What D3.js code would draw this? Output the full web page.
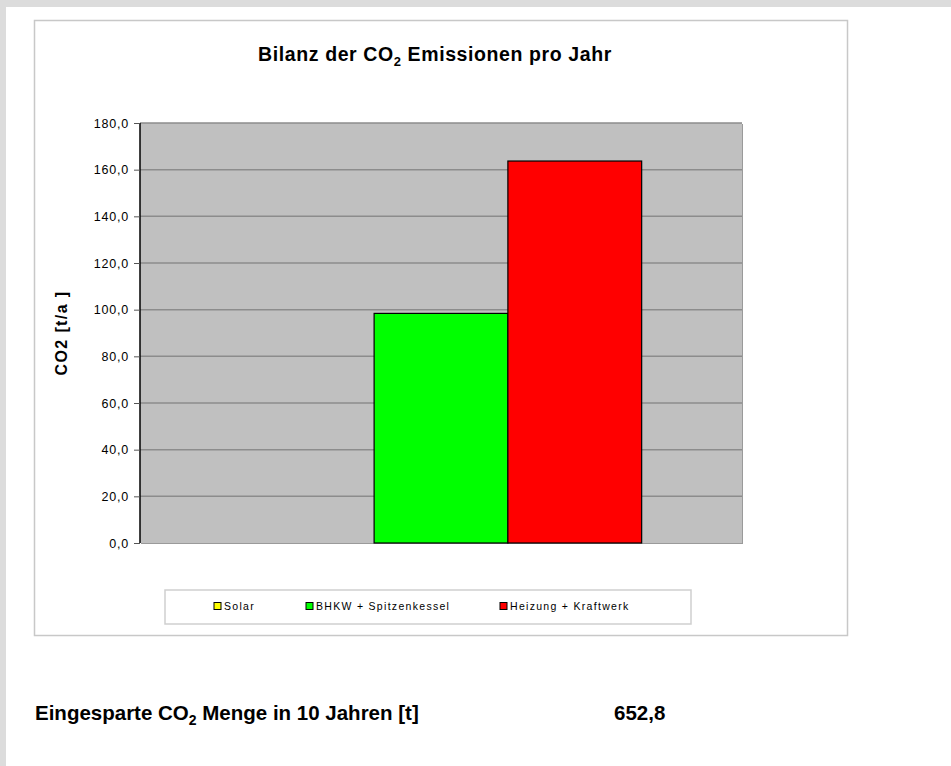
<!DOCTYPE html>
<html>
<head>
<meta charset="utf-8">
<script src="https://cdn.jsdelivr.net/npm/d3@7"></script>
<style>
	body { margin: 0; background: #dcdcdc; }
	svg { display: block; }
	text { font-family: "Liberation Sans", Arial, sans-serif; fill: #000; }
</style>
</head>
<body>
<svg id="chart" width="951" height="766"></svg>
<script>
// Daten
const categories = ['Bilanz'];
const seriesNames = ['Solar', 'BHKW + Spitzenkessel', 'Heizung + Kraftwerk'];
const seriesColors = ['#ffff00', '#00ff00', '#ff0000'];
const seriesValues = [0, 98.4, 163.7];
const yTicks = [0, 20, 40, 60, 80, 100, 120, 140, 160, 180];
const savedLabel = 'Menge in 10 Jahren [t]';
const savedValue = 652.8;

const svg = d3.select('#chart');

// Seite
svg.append('rect')
	.attr('x', 6).attr('y', 7)
	.attr('width', 945).attr('height', 759)
	.attr('fill', '#fff');

// Diagrammrahmen
svg.append('rect')
	.attr('x', 34.5).attr('y', 20.5)
	.attr('width', 813).attr('height', 615)
	.attr('fill', '#fff')
	.attr('stroke', '#c8c8c8')
	.attr('stroke-width', 1.5);

// Titel
const title = svg.append('text')
	.attr('x', 435).attr('y', 61)
	.attr('text-anchor', 'middle')
	.style('font-size', '19.5px')
	.style('letter-spacing', '0.6px')
	.style('font-weight', 'bold');
title.append('tspan').text('Bilanz der CO');
title.append('tspan').attr('dy', 5).style('font-size', '13px').text('2');
title.append('tspan').attr('dy', -5).text(' Emissionen pro Jahr');

const PLOT_X = 140;
const PLOT_Y = 123;
const PLOT_W = 602;
const PLOT_H = 420;

const y = d3.scaleLinear().domain([0, 180]).range([PLOT_Y + PLOT_H, PLOT_Y]);
const x0 = d3.scaleBand().domain(categories).range([PLOT_X, PLOT_X + PLOT_W]).paddingInner(0).paddingOuter(0);
// Excel: Abstand 150% der Balkenbreite, aufgeteilt auf beide Seiten
const groupW = x0.bandwidth() * 3 / 4.5;
const x1 = d3.scaleBand().domain(seriesNames)
	.range([(x0.bandwidth() - groupW) / 2, (x0.bandwidth() + groupW) / 2]);

// Zeichenfläche
svg.append('rect')
	.attr('x', PLOT_X + 1).attr('y', PLOT_Y + 1)
	.attr('width', PLOT_W).attr('height', PLOT_H)
	.attr('fill', '#9a9a9a');
svg.append('rect')
	.attr('x', PLOT_X).attr('y', PLOT_Y)
	.attr('width', PLOT_W).attr('height', PLOT_H)
	.attr('fill', '#c0c0c0');

// Gitternetz
svg.append('g')
	.selectAll('line')
	.data(yTicks.filter(d => d > 0))
	.join('line')
	.attr('x1', PLOT_X).attr('x2', PLOT_X + PLOT_W)
	.attr('y1', d => y(d)).attr('y2', d => y(d))
	.attr('stroke', '#8c8c8c')
	.attr('stroke-width', 1.5);

// Balken
svg.append('g')
	.selectAll('rect')
	.data(seriesValues.map((v, i) => ({ name: seriesNames[i], value: v, color: seriesColors[i] })))
	.join('rect')
	.filter(d => d.value > 0)
	.attr('x', d => x0(categories[0]) + x1(d.name))
	.attr('y', d => y(d.value))
	.attr('width', x1.bandwidth())
	.attr('height', d => y(0) - y(d.value))
	.attr('fill', d => d.color)
	.attr('stroke', '#000')
	.attr('stroke-width', 1.2);

// Y-Achse
const yAxis = d3.axisLeft(y)
	.tickValues(yTicks)
	.tickSize(6)
	.tickPadding(5)
	.tickFormat(d => d3.format('.1f')(d).replace('.', ','));
const gy = svg.append('g')
	.attr('transform', `translate(${PLOT_X},0)`)
	.call(yAxis);
gy.select('.domain').attr('stroke', '#000').attr('stroke-width', 1.5)
	.attr('d', `M0,${PLOT_Y}V${PLOT_Y + PLOT_H}`);
gy.selectAll('.tick line').attr('stroke', '#555');
gy.selectAll('.tick text')
	.style('font-size', '12.5px')
	.style('letter-spacing', '0.8px')
	.style('font-family', '"Liberation Sans", Arial, sans-serif')
	.attr('fill', '#000');

// Achsentitel
svg.append('text')
	.attr('transform', `translate(67,${PLOT_Y + PLOT_H / 2}) rotate(-90)`)
	.attr('text-anchor', 'middle')
	.style('font-size', '16px')
	.style('letter-spacing', '1.4px')
	.style('font-weight', 'bold')
	.text('CO2 [t/a ]');

// Legende
svg.append('rect')
	.attr('x', 165).attr('y', 590)
	.attr('width', 526).attr('height', 34)
	.attr('fill', '#fff')
	.attr('stroke', '#cfcfcf')
	.attr('stroke-width', 1.5);

const legendX = [214, 306, 500];
const legend = svg.append('g')
	.selectAll('g')
	.data(seriesNames)
	.join('g')
	.attr('transform', (d, i) => `translate(${legendX[i]},606)`);
legend.append('rect')
	.attr('x', 0).attr('y', -3.5)
	.attr('width', 7).attr('height', 7)
	.attr('fill', (d, i) => seriesColors[i])
	.attr('stroke', '#000');
legend.append('text')
	.attr('x', 10).attr('y', 4)
	.style('font-size', '10.5px')
	.style('letter-spacing', '1.3px')
	.text(d => d);

// Einsparung
const saved = svg.append('text')
	.attr('x', 35).attr('y', 720)
	.style('font-size', '20.5px')
	.style('font-weight', 'bold');
saved.append('tspan').text('Eingesparte CO');
saved.append('tspan').attr('dy', 5).style('font-size', '14px').text('2');
saved.append('tspan').attr('dy', -5).text(' ' + savedLabel);

svg.append('text')
	.attr('x', 614).attr('y', 720)
	.style('font-size', '20.5px')
	.style('font-weight', 'bold')
	.text(d3.format('.1f')(savedValue).replace('.', ','));
</script>
</body>
</html>
